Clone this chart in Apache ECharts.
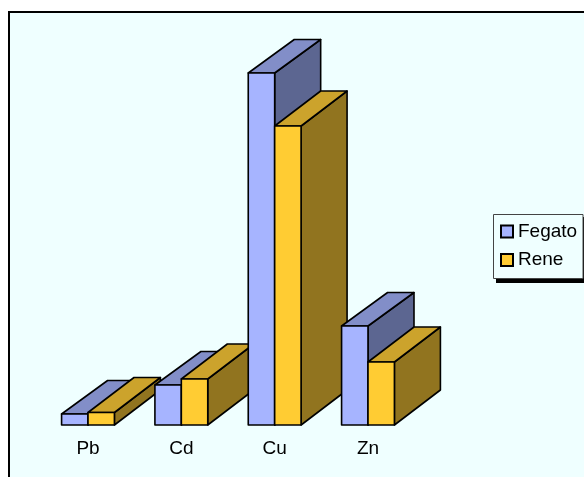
<!DOCTYPE html>
<html><head><meta charset="utf-8">
<style>html,body{margin:0;padding:0;background:#fff}#c{width:584px;height:477px}</style>
<script src="https://cdn.jsdelivr.net/npm/echarts@6/dist/echarts.min.js"></script>
</head><body><div id="c"></div>
<script>
var categories = ['Pb', 'Cd', 'Cu', 'Zn'];
var fegato = [11, 40, 352, 99];
var rene = [12.5, 46, 299, 63];
var blue = {front:'#A6B4FF', top:'#828EC8', side:'#5C6691'};
var gold = {front:'#FFCC33', top:'#CCA32C', side:'#91741F'};
var DEPTH_X = 46, BAR_FRAC = 0.283;

function maker(pal, seriesIdx, depthY) {
  return function (params, api) {
    var i = api.value(0);
    var base = api.coord([i, 0]);
    var top = api.coord([i, api.value(1)]);
    var w = api.size([1, 0])[0] * BAR_FRAC;
    var x0 = base[0] + (seriesIdx === 0 ? -w : 0);
    var x1 = x0 + w, yb = base[1], yt = top[1];
    var st = function (c) { return {fill: c, stroke: '#000', lineWidth: 1.6, lineJoin: 'round'}; };
    var z = params.dataIndex * 4 + seriesIdx;
    return {type: 'group', children: [
      {type: 'polygon', z2: z, shape: {points: [[x1, yb], [x1 + DEPTH_X, yb - depthY], [x1 + DEPTH_X, yt - depthY], [x1, yt]]}, style: st(pal.side)},
      {type: 'polygon', z2: z, shape: {points: [[x0, yt], [x0 + DEPTH_X, yt - depthY], [x1 + DEPTH_X, yt - depthY], [x1, yt]]}, style: st(pal.top)},
      {type: 'polygon', z2: z, shape: {points: [[x0, yb], [x1, yb], [x1, yt], [x0, yt]]}, style: st(pal.front)}
    ]};
  };
}
var chart = echarts.init(document.getElementById('c'), null, {renderer: 'canvas'});
chart.setOption({
  animation: false,
  graphic: [
    {type: 'rect', z: -10, silent: true, shape: {x: 9, y: 12, width: 640, height: 520},
      style: {fill: '#EFFFFF', stroke: '#000', lineWidth: 2}},
    {type: 'rect', z: 1, silent: true, shape: {x: 496, y: 217, width: 100, height: 66}, style: {fill: '#000'}},
    {type: 'rect', z: 1, silent: true, z2: 1, shape: {x: 493.5, y: 214.5, width: 89.5, height: 64},
      style: {fill: '#EFFFFF', stroke: '#444', lineWidth: 1}}
  ],
  grid: {left: 41.33, width: 373.33, top: 25, height: 400},
  xAxis: {type: 'category', data: categories, axisLine: {show: false}, axisTick: {show: false},
    axisLabel: {color: '#000', fontFamily: 'Liberation Sans', fontSize: 19, margin: 14}},
  yAxis: {type: 'value', min: 0, max: 400, show: false},
  legend: {left: 500, top: 222, orient: 'vertical', padding: 0, itemGap: 9.5,
    itemWidth: 12, itemHeight: 12,
    textStyle: {color: '#000', fontFamily: 'Liberation Sans', fontSize: 19, padding: [0, 0, 6, 0]},
    icon: 'rect', data: ['Fegato', 'Rene']},
  series: [
    {name: 'Fegato', type: 'custom', renderItem: maker(blue, 0, 33.5), encode: {x: 0, y: 1},
      itemStyle: {color: blue.front, borderColor: '#000', borderWidth: 1.5},
      data: categories.map(function (c, i) { return [c, fegato[i]]; })},
    {name: 'Rene', type: 'custom', renderItem: maker(gold, 1, 35), encode: {x: 0, y: 1},
      itemStyle: {color: gold.front, borderColor: '#000', borderWidth: 1.5},
      data: categories.map(function (c, i) { return [c, rene[i]]; })}
  ]
});
</script></body></html>
